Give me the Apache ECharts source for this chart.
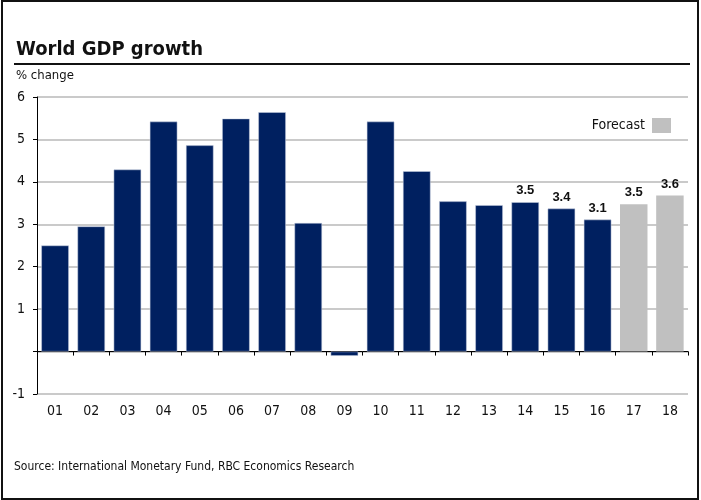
<!DOCTYPE html>
<html>
<head>
<meta charset="utf-8">
<script src="https://cdn.jsdelivr.net/npm/echarts@6/dist/echarts.min.js"></script>
<style>html,body{margin:0;padding:0;background:#fff;}#c{width:701px;height:500px;}</style>
</head>
<body>
<div id="c"></div>
<script>
var categories = ['01','02','03','04','05','06','07','08','09','10','11','12','13','14','15','16','17','18'];
var historical = [2.5, 2.95, 4.29, 5.42, 4.86, 5.49, 5.64, 3.03, -0.1, 5.42, 4.25, 3.54, 3.45, 3.52, 3.37, 3.11, null, null];
var forecast   = [null, null, null, null, null, null, null, null, null, null, null, null, null, null, null, null, 3.47, 3.68];
var labelled = {'14':'3.5','15':'3.4','16':'3.1','17':'3.5','18':'3.6'};
var yTicks = [-1, 0, 1, 2, 3, 4, 5, 6];

function toData(arr) {
  return arr.map(function (v, i) {
    if (v === null) return '-';
    var d = { value: v };
    if (labelled[categories[i]]) {
      d.label = { show: true, position: 'top', formatter: labelled[categories[i]] };
    }
    return d;
  });
}

var chart = echarts.init(document.getElementById('c'), null, { renderer: 'canvas' });
var labelStyle = { fontFamily: 'Liberation Sans', fontWeight: 'bold', fontSize: 13, color: '#111', distance: 5 };
chart.setOption({
  animation: false,
  backgroundColor: '#fff',
  title: {
    text: 'World GDP growth', left: 11, top: 35,
    textStyle: { fontFamily: 'DejaVu Sans Condensed', fontWeight: 'bold', fontSize: 20, color: '#111' }
  },
  legend: {
    data: [{ name: 'Forecast' }], right: 30, top: 118, align: 'right', padding: 0,
    icon: 'rect', itemWidth: 19, itemHeight: 15, itemGap: 6,
    textStyle: { fontFamily: 'DejaVu Sans Condensed', fontSize: 14, color: '#111', padding: [0, 2, 0, 0] }
  },
  graphic: [
    { type: 'rect', shape: { x: 2, y: 1, width: 696, height: 498 }, style: { fill: 'none', stroke: '#111', lineWidth: 2 } },
    { type: 'line', shape: { x1: 14, y1: 64, x2: 690, y2: 64 }, style: { stroke: '#111', lineWidth: 2 } },
    { type: 'text', left: 16, top: 69, style: { text: '% change', font: '13px "DejaVu Sans Condensed"', fill: '#111' } },
    { type: 'text', left: 14, top: 461, style: { text: 'Source: International Monetary Fund, RBC Economics Research', font: '12px "DejaVu Sans Condensed"', fill: '#111' } }
  ],
  grid: { left: 37, right: 13, top: 97, bottom: 106, containLabel: false },
  xAxis: [
    {
      type: 'category', data: categories, position: 'bottom',
      axisLine: { onZero: true, lineStyle: { color: '#000', width: 1 } },
      axisTick: { show: true, alignWithLabel: false, length: 4, lineStyle: { color: '#000' } },
      axisLabel: { show: false }
    },
    {
      type: 'category', data: categories, position: 'bottom',
      axisLine: { show: false }, axisTick: { show: false },
      axisLabel: { show: true, margin: 10, fontFamily: 'DejaVu Sans Condensed', fontSize: 14, color: '#111' }
    }
  ],
  yAxis: {
    type: 'value', min: -1, max: 6, interval: 1,
    axisLine: { show: true, lineStyle: { color: '#000', width: 1 } },
    axisTick: { show: true, length: 4, lineStyle: { color: '#000' } },
    axisLabel: {
      margin: 12, fontFamily: 'DejaVu Sans Condensed', fontSize: 14, color: '#111',
      formatter: function (v) { return v === 0 ? '' : String(v); }
    },
    splitLine: { show: true, lineStyle: { color: '#b8b8b8', width: 1.5 } }
  },
  series: [
    {
      name: 'Historical', type: 'bar', xAxisIndex: 0, data: toData(historical),
      barCategoryGap: '24%', barGap: '-100%',
      itemStyle: { color: '#002060', borderColor: '#c8d0e0', borderWidth: 0.5 },
      label: labelStyle
    },
    {
      name: 'Forecast', type: 'bar', xAxisIndex: 0, data: toData(forecast),
      barCategoryGap: '24%', barGap: '-100%',
      itemStyle: { color: '#c0c0c0' },
      label: labelStyle
    }
  ]
});
</script>
</body>
</html>
